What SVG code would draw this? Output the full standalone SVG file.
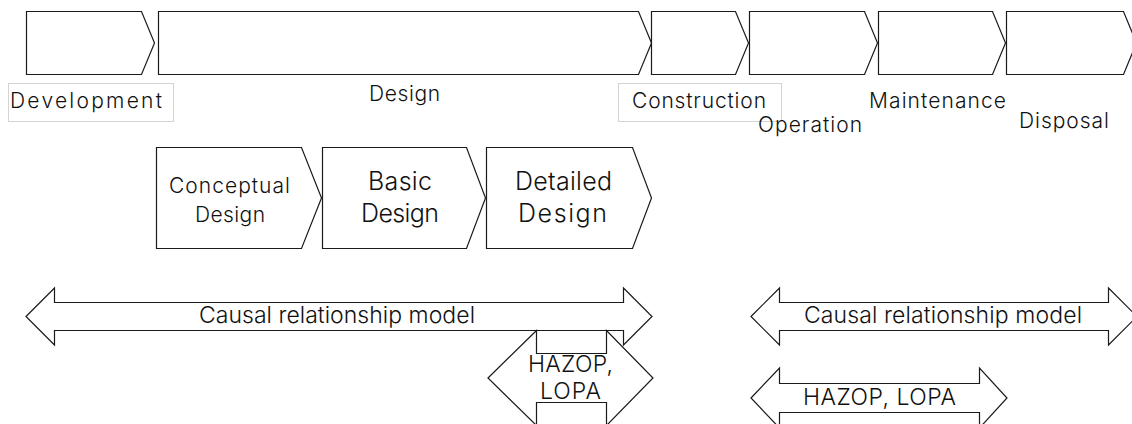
<svg xmlns="http://www.w3.org/2000/svg" width="1132" height="424" viewBox="0 0 1132 424">
<style>
.shape{fill:#ffffff;stroke:#1a1a1a;stroke-width:1.2;stroke-linejoin:miter}
.lbox{fill:#ffffff;stroke:#d4d4d4;stroke-width:1}
.t{font-family:Inter,"Noto Sans CJK JP",sans-serif;font-weight:300;fill:#111111;font-size:21px}
.t23{font-size:23px}
.t25{font-size:25px}
</style>
<rect x="0" y="0" width="1132" height="424" fill="#ffffff"/>
<g id="phase-development">
<polygon class="shape" points="26.5,11.5 141.5,11.5 154.5,43 141.5,74.5 26.5,74.5"/>
<rect class="lbox" x="8.5" y="83.5" width="165" height="38"/>
<text class="t" x="10" y="108" textLength="152" lengthAdjust="spacing">Development</text>
</g>
<g id="phase-design">
<polygon class="shape" points="158.5,11.5 638.5,11.5 651.5,43 638.5,74.5 158.5,74.5"/>
<text class="t" x="369" y="101" textLength="71" lengthAdjust="spacing">Design</text>
</g>
<g id="phase-construction">
<polygon class="shape" points="651.5,11.5 735.5,11.5 748.5,43 735.5,74.5 651.5,74.5"/>
<rect class="lbox" x="618.5" y="83.5" width="163" height="38"/>
<text class="t" x="632" y="108" textLength="134" lengthAdjust="spacing">Construction</text>
</g>
<g id="phase-operation">
<polygon class="shape" points="749.5,11.5 864.5,11.5 877.5,43 864.5,74.5 749.5,74.5"/>
<text class="t" x="758" y="132" textLength="104" lengthAdjust="spacing">Operation</text>
</g>
<g id="phase-maintenance">
<polygon class="shape" points="878.5,11.5 992.5,11.5 1005.5,43 992.5,74.5 878.5,74.5"/>
<text class="t" x="869" y="108" textLength="137" lengthAdjust="spacing">Maintenance</text>
</g>
<g id="phase-disposal">
<polygon class="shape" points="1006.5,11.5 1123.5,11.5 1136.5,43 1123.5,74.5 1006.5,74.5"/>
<text class="t" x="1019" y="128" textLength="90" lengthAdjust="spacing">Disposal</text>
</g>
<g id="conceptual-design">
<polygon class="shape" points="156.5,147.5 301.5,147.5 321.5,198 301.5,248.5 156.5,248.5"/>
<text class="t" x="169" y="193" textLength="121" lengthAdjust="spacing">Conceptual</text>
<text class="t" x="195" y="222" textLength="70" lengthAdjust="spacing">Design</text>
</g>
<g id="basic-design">
<polygon class="shape" points="322.5,147.5 466.5,147.5 485.5,198 466.5,248.5 322.5,248.5"/>
<text class="t t25" x="368" y="190" textLength="64" lengthAdjust="spacing">Basic</text>
<text class="t t25" x="361" y="222" textLength="78" lengthAdjust="spacing">Design</text>
</g>
<g id="detailed-design">
<polygon class="shape" points="486.5,147.5 632.5,147.5 651.5,198 632.5,248.5 486.5,248.5"/>
<text class="t t25" x="515" y="190" textLength="97" lengthAdjust="spacing">Detailed</text>
<text class="t t25" x="518" y="222" textLength="89" lengthAdjust="spacing">Design</text>
</g>
<g id="causal-model-design">
<polygon class="shape" points="26,316.5 54.5,288 54.5,302.5 623.5,302.5 623.5,288 652,316.5 623.5,345 623.5,330.5 54.5,330.5 54.5,345"/>
<text class="t t23" x="199" y="323" textLength="276" lengthAdjust="spacing">Causal relationship model</text>
</g>
<g id="hazop-lopa-design">
<polygon class="shape" points="488,378 536.5,330.5 536.5,353.5 606.5,353.5 606.5,330.5 653,378 606.5,425.5 606.5,402.5 536.5,402.5 536.5,425.5"/>
<text class="t t23" x="528" y="372" textLength="85" lengthAdjust="spacing">HAZOP,</text>
<text class="t t23" x="540" y="399" textLength="61" lengthAdjust="spacing">LOPA</text>
</g>
<g id="causal-model-operation">
<polygon class="shape" points="751,316.5 779.5,288 779.5,302.5 1108.5,302.5 1108.5,288 1137,316.5 1108.5,345 1108.5,330.5 779.5,330.5 779.5,345"/>
<text class="t t23" x="804" y="323" textLength="278" lengthAdjust="spacing">Causal relationship model</text>
</g>
<g id="hazop-lopa-operation">
<polygon class="shape" points="751,398 779.5,368 779.5,383.5 979.5,383.5 979.5,368 1007,398 979.5,428 979.5,412.5 779.5,412.5 779.5,428"/>
<text class="t t23" x="803" y="405" textLength="153" lengthAdjust="spacing">HAZOP, LOPA</text>
</g>
<g id="connectors"></g>
</svg>
